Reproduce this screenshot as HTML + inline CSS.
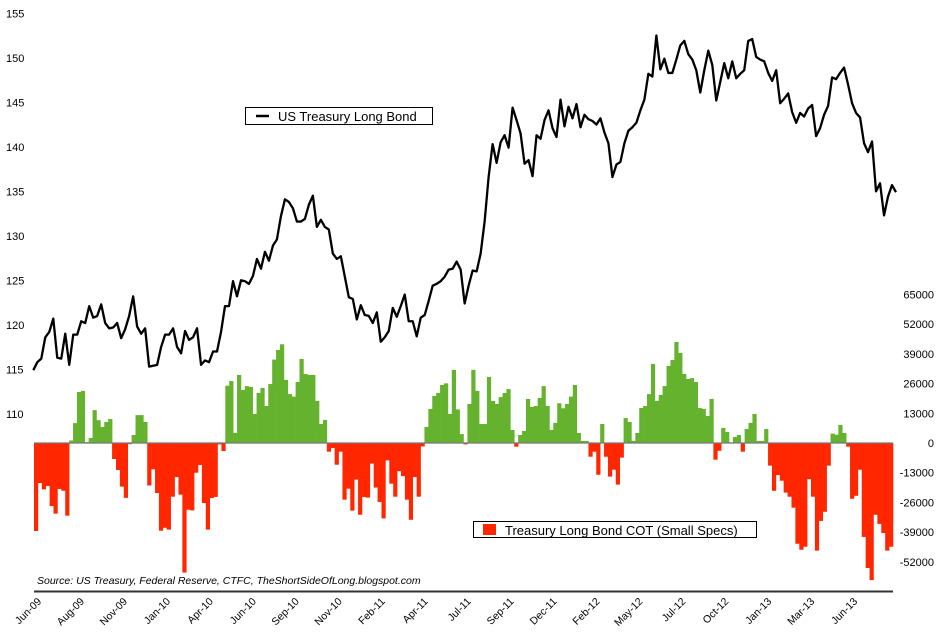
<!DOCTYPE html>
<html><head><meta charset="utf-8"><style>
body{margin:0;background:#fff;}
svg{display:block;font-family:"Liberation Sans",sans-serif;}
</style></head><body>
<svg id="chart" width="943" height="637" xmlns="http://www.w3.org/2000/svg">
<g id="bars"></g>
<line x1="34" y1="443" x2="893" y2="443" stroke="#777" stroke-width="1.2"/>
<path id="bondLine" fill="none" stroke="#000" stroke-width="2.3" stroke-linejoin="round"/>
<g id="leftAxis"></g>
<g id="rightAxis"></g>
<g id="xAxis"></g>
<line x1="34" y1="591.5" x2="893" y2="591.5" stroke="#333" stroke-width="2"/>
<text x="37" y="584" font-size="10.5" font-style="italic" fill="#000">Source: US Treasury, Federal Reserve, CTFC, TheShortSideOfLong.blogspot.com</text>
<g>
<rect x="245.5" y="107.5" width="187" height="17" fill="#fff" stroke="#000" stroke-width="1"/>
<line x1="256" y1="116" x2="269" y2="116" stroke="#000" stroke-width="2.5"/>
<text x="278" y="121" font-size="13" fill="#000">US Treasury Long Bond</text>
</g>
<g>
<rect x="473.5" y="521.5" width="283" height="16" fill="#fff" stroke="#000" stroke-width="1"/>
<rect x="483" y="524" width="13" height="11" fill="#FF2600"/>
<text x="505" y="535" font-size="13" fill="#000">Treasury Long Bond COT (Small Specs)</text>
</g>
</svg>
<script>
const bondPrices = [114.9,115.8,116.2,118.6,119.2,120.7,116.3,116.2,119.0,115.5,118.9,118.9,120.4,120.2,122.1,120.8,121.0,122.3,120.2,119.6,119.7,120.2,118.5,119.5,121.0,123.2,119.8,119.0,119.6,115.3,115.4,115.5,117.5,118.9,118.9,119.6,117.5,116.8,119.3,118.3,118.6,119.6,115.5,116.0,115.8,117.0,117.0,119.2,122.1,122.1,124.9,123.2,125.0,124.9,124.6,125.5,127.4,126.3,128.2,127.2,128.9,129.6,132.2,134.1,133.8,133.1,131.6,131.6,131.9,133.5,134.5,131.0,131.8,131.0,130.7,128.0,127.4,127.7,125.4,123.1,122.9,120.6,122.2,121.1,121.0,120.2,121.4,118.1,118.6,119.3,121.9,120.9,122.1,123.4,120.4,120.4,118.7,120.8,121.1,122.7,124.4,124.6,124.9,125.4,126.2,126.3,127.1,126.2,122.4,
124.4,126.1,126.0,128.0,131.6,136.6,140.3,138.2,140.5,141.3,139.9,144.4,143.0,141.5,138.1,138.5,136.7,141.3,140.9,143.0,144.1,142.1,141.1,145.3,142.3,144.5,143.2,144.8,142.2,143.6,143.1,142.9,142.5,143.2,141.6,140.4,136.6,138.0,138.3,140.4,141.8,142.2,142.7,144.1,145.3,148.2,147.9,152.5,148.7,149.9,148.3,148.3,149.8,151.4,151.9,150.4,149.8,148.6,146.1,148.6,150.8,149.2,145.2,147.3,149.4,147.7,149.6,147.7,148.2,148.6,151.9,152.1,150.1,149.8,149.6,148.3,147.4,148.6,144.9,145.4,146.0,143.9,142.7,143.8,143.4,144.3,144.7,141.2,142.1,143.6,144.6,147.8,147.6,148.3,148.9,147.0,144.9,143.8,143.3,140.4,139.4,140.6,135.0,135.9,132.3,134.4,135.7,134.9];
const cotPositions = [-38.5,-17.5,-20.3,-18.8,-27.6,-30.9,-20.1,-20.9,-31.8,1.1,8.7,22.3,22.8,0.4,2.2,14.4,10,7,9.2,10.5,-7,-11.8,-19.1,-24,-0.5,3.5,12.2,12.2,9.2,-18.6,-11.5,-21.9,-38.4,-37.1,-37.9,-23.5,-14.9,-22.6,-56.7,-29.2,-29.5,-13,-9.6,-26.3,-37.9,-24.1,-23.6,-0.6,-3.5,25.1,27.1,4.4,29.8,23.2,24.9,24.5,12.7,21.9,24.1,16.2,25.8,36.5,40.7,43.2,27.6,21.4,20.3,26.7,36.8,30.2,29.8,29.8,18.4,8.3,10.1,-3.8,-2.2,-9.5,-3.8,-24.8,-20,-29.6,-16,-31.4,-23.6,-23.9,-9,-19.5,-25.8,-33,-7.6,-17.8,-23.5,-12.3,-14.5,-24.8,-33.6,-14.9,-23.5,-1.5,7,14.9,20.6,21.9,25.4,26.1,12.7,32,
14.7,3.9,-0.6,17.1,32,22.8,8.3,8.3,28.9,18.4,17.1,20.1,21.9,23.6,5.7,-1.6,3.5,5.3,19.3,15.8,16.2,19.7,24.9,16.2,5.7,8.8,17.4,15.2,17.1,20.3,25.4,4.4,0.9,0.9,-6,-3.8,-13.9,8.3,-6,-14.7,-11.7,-18.2,-6.4,10.9,9.2,0.9,4.4,15.3,16.2,21.4,34.6,18.4,21,24.9,33.7,36.3,44.2,39.4,30.2,28,28.4,26.7,15.3,14.9,11.8,19.3,-7.3,-3.4,6.6,4.8,0.3,2.6,3.5,-3.8,6.1,8.8,12.7,0.9,0.9,6.1,-9.9,-20.9,-14,-16.5,-21.7,-23.5,-28.3,-44.1,-46.7,-45.4,-15.8,-23.5,-47.1,-34.1,-30.1,-9.9,4.1,3.6,7.9,4.4,-1.6,-24.4,-23.1,-11.7,-41.1,-54.7,-60,-31.4,-35.4,-39.4,-47.1,-45.4];
const leftTicks = [110,115,120,125,130,135,140,145,150,155];
const rightTicks = [65000,52000,39000,26000,13000,0,-13000,-26000,-39000,-52000];
const dateLabels = ["Jun-09","Aug-09","Nov-09","Jan-10","Apr-10","Jun-10","Sep-10","Nov-10","Feb-11","Apr-11","Jul-11","Sep-11","Dec-11","Feb-12","May-12","Jul-12","Oct-12","Jan-13","Mar-13","Jun-13"];

const NS="http://www.w3.org/2000/svg";
const yL = v => 13.3 + (155 - v) * 8.9;
const yR = v => 443 - v * 2.285 / 1000;   // v in contracts
const lx0 = 33.3, lx1 = 896;
const xLine = i => lx0 + i * (lx1 - lx0) / (bondPrices.length - 1);
const bx0 = 34, bx1 = 893;
const bw = (bx1 - bx0) / cotPositions.length;
const xBar = i => bx0 + i * bw;
function mk(tag, attrs, parent){const e=document.createElementNS(NS,tag);for(const k in attrs)e.setAttribute(k,attrs[k]);parent.appendChild(e);return e;}

const barsG=document.getElementById('bars');
cotPositions.forEach((v,i)=>{
  const y0=yR(0), y1=yR(v*1000);
  const r=mk('rect',{x:xBar(i).toFixed(2),y:Math.min(y0,y1).toFixed(2),width:(bw+0.3).toFixed(2),height:Math.abs(y1-y0).toFixed(2),fill:v>=0?'#65B22E':'#FF2600'},barsG);
  
  
});

document.getElementById('bondLine').setAttribute('d',bondPrices.map((v,i)=>(i?'L':'M')+xLine(i).toFixed(2)+','+yL(v).toFixed(2)).join(''));

const la=document.getElementById('leftAxis');
leftTicks.forEach(t=>{
  const e=mk('text',{x:6,y:(yL(t)+4).toFixed(1),'font-size':11,fill:'#000'},la);
  e.textContent=t;
  
  
});
const ra=document.getElementById('rightAxis');
rightTicks.forEach(t=>{
  const e=mk('text',{x:934,y:(yR(t)+4).toFixed(1),'font-size':11,fill:'#000','text-anchor':'end'},ra);
  e.textContent=t;
  
  
});
const xa=document.getElementById('xAxis');
dateLabels.forEach((d,i)=>{
  const x=xBar(i*11)+8, y=602;
  const e=mk('text',{x:x,y:y,'font-size':10.5,fill:'#000','text-anchor':'end',transform:`rotate(-45 ${x} ${y})`},xa);
  e.textContent=d;
  
  
});
</script>
</body></html>
